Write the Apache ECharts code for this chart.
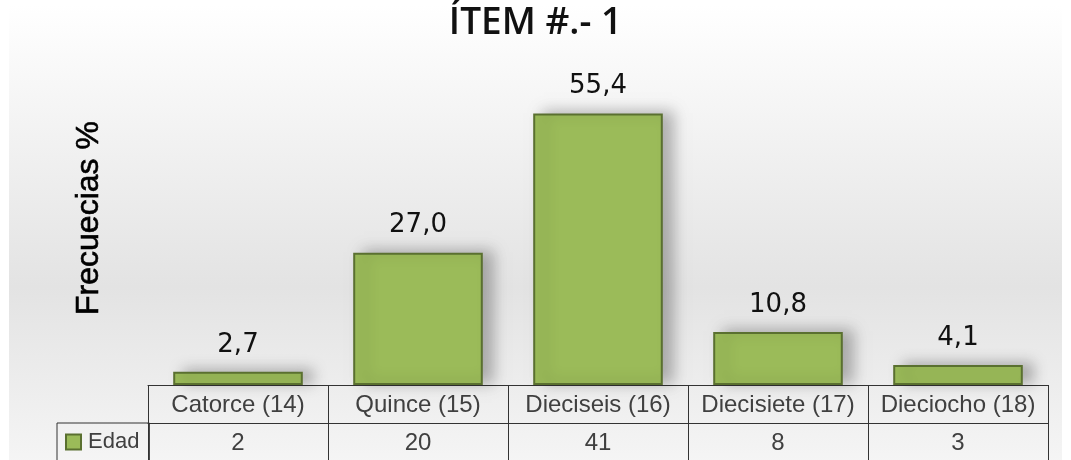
<!DOCTYPE html>
<html>
<head>
<meta charset="utf-8">
<script src="https://cdn.jsdelivr.net/npm/echarts@6/dist/echarts.min.js"></script>
<style>
html,body{margin:0;padding:0;background:#fff;}
#chart{width:1071px;height:460px;}
</style>
</head>
<body>
<div id="chart"></div>
<script>
const titleText = 'ÍTEM #.- 1';
const yAxisTitle = 'Frecuecias %';
const seriesName = 'Edad';
const categories = ['Catorce (14)', 'Quince (15)', 'Dieciseis (16)', 'Diecisiete (17)', 'Dieciocho (18)'];
const percentages = [2.7, 27.0, 55.4, 10.8, 4.1];
const counts = ['2', '20', '41', '8', '3'];

const chart = echarts.init(document.getElementById('chart'));
const tableFont = 'Liberation Sans, Arial, sans-serif';
const option = {
  animation: false,
  title: {
    text: titleText,
    left: 'center',
    top: 0,
    textStyle: { fontFamily: '"Open Sans", sans-serif', fontSize: 37, fontWeight: 600, color: '#111' }
  },
  graphic: [
    {
      type: 'rect', z: -10, silent: true,
      shape: { x: 9, y: 5, width: 1053, height: 470 },
      style: {
        fill: new echarts.graphic.LinearGradient(0, 0, 0, 1, [
          { offset: 0, color: '#ffffff' },
          { offset: 0.6, color: '#e3e3e3' },
          { offset: 1, color: '#f6f6f6' }
        ])
      }
    },
    {
      type: 'text', x: 89, y: 218, rotation: Math.PI / 2, silent: true,
      style: {
        text: yAxisTitle,
        font: '32px "Liberation Sans", Arial, sans-serif',
        fill: '#000',
        stroke: '#000',
        lineWidth: 0.6,
        textAlign: 'center',
        textVerticalAlign: 'middle'
      }
    }
  ],
  legend: {
    data: [seriesName],
    left: 57,
    top: 423,
    orient: 'horizontal',
    padding: [8, 10, 40, 8],
    borderColor: '#333',
    borderWidth: 1,
    icon: 'rect',
    itemWidth: 15,
    itemHeight: 15,
    textStyle: { fontFamily: tableFont, fontSize: 22, color: '#404040', padding: [0, 0, 0, 2] }
  },
  grid: { left: 148, right: 23, top: 91, bottom: 75 },
  xAxis: [
    {
      type: 'category',
      data: categories,
      position: 'bottom',
      axisLine: { show: true, lineStyle: { color: '#333', width: 1 } },
      axisTick: { show: true, length: 80, lineStyle: { color: '#333', width: 1 } },
      axisLabel: { interval: 0, fontFamily: tableFont, fontSize: 24, color: '#404040', margin: 8 }
    },
    {
      type: 'category',
      data: counts,
      position: 'bottom',
      offset: 38,
      axisLine: { show: true, lineStyle: { color: '#333', width: 1 } },
      axisTick: { show: false },
      axisLabel: { interval: 0, fontFamily: tableFont, fontSize: 24, color: '#404040', margin: 8 }
    }
  ],
  yAxis: {
    type: 'value', min: 0, max: 60,
    axisLine: { show: false }, axisTick: { show: false },
    axisLabel: { show: false }, splitLine: { show: false }
  },
  series: [{
    name: seriesName,
    type: 'bar',
    data: percentages,
    barWidth: '72%',
    itemStyle: {
      color: '#9bbb59',
      borderColor: '#5a7030',
      borderWidth: 2,
      shadowColor: 'rgba(0,0,0,0.28)',
      shadowBlur: 14,
      shadowOffsetX: 10,
      shadowOffsetY: -2
    },
    label: {
      show: true,
      position: 'top',
      distance: 14,
      fontFamily: 'DejaVu Sans, Verdana, sans-serif',
      fontSize: 26,
      color: '#111',
      formatter: p => p.value.toFixed(1).replace('.', ',')
    }
  }]
};
chart.setOption(option);
</script>
</body>
</html>
